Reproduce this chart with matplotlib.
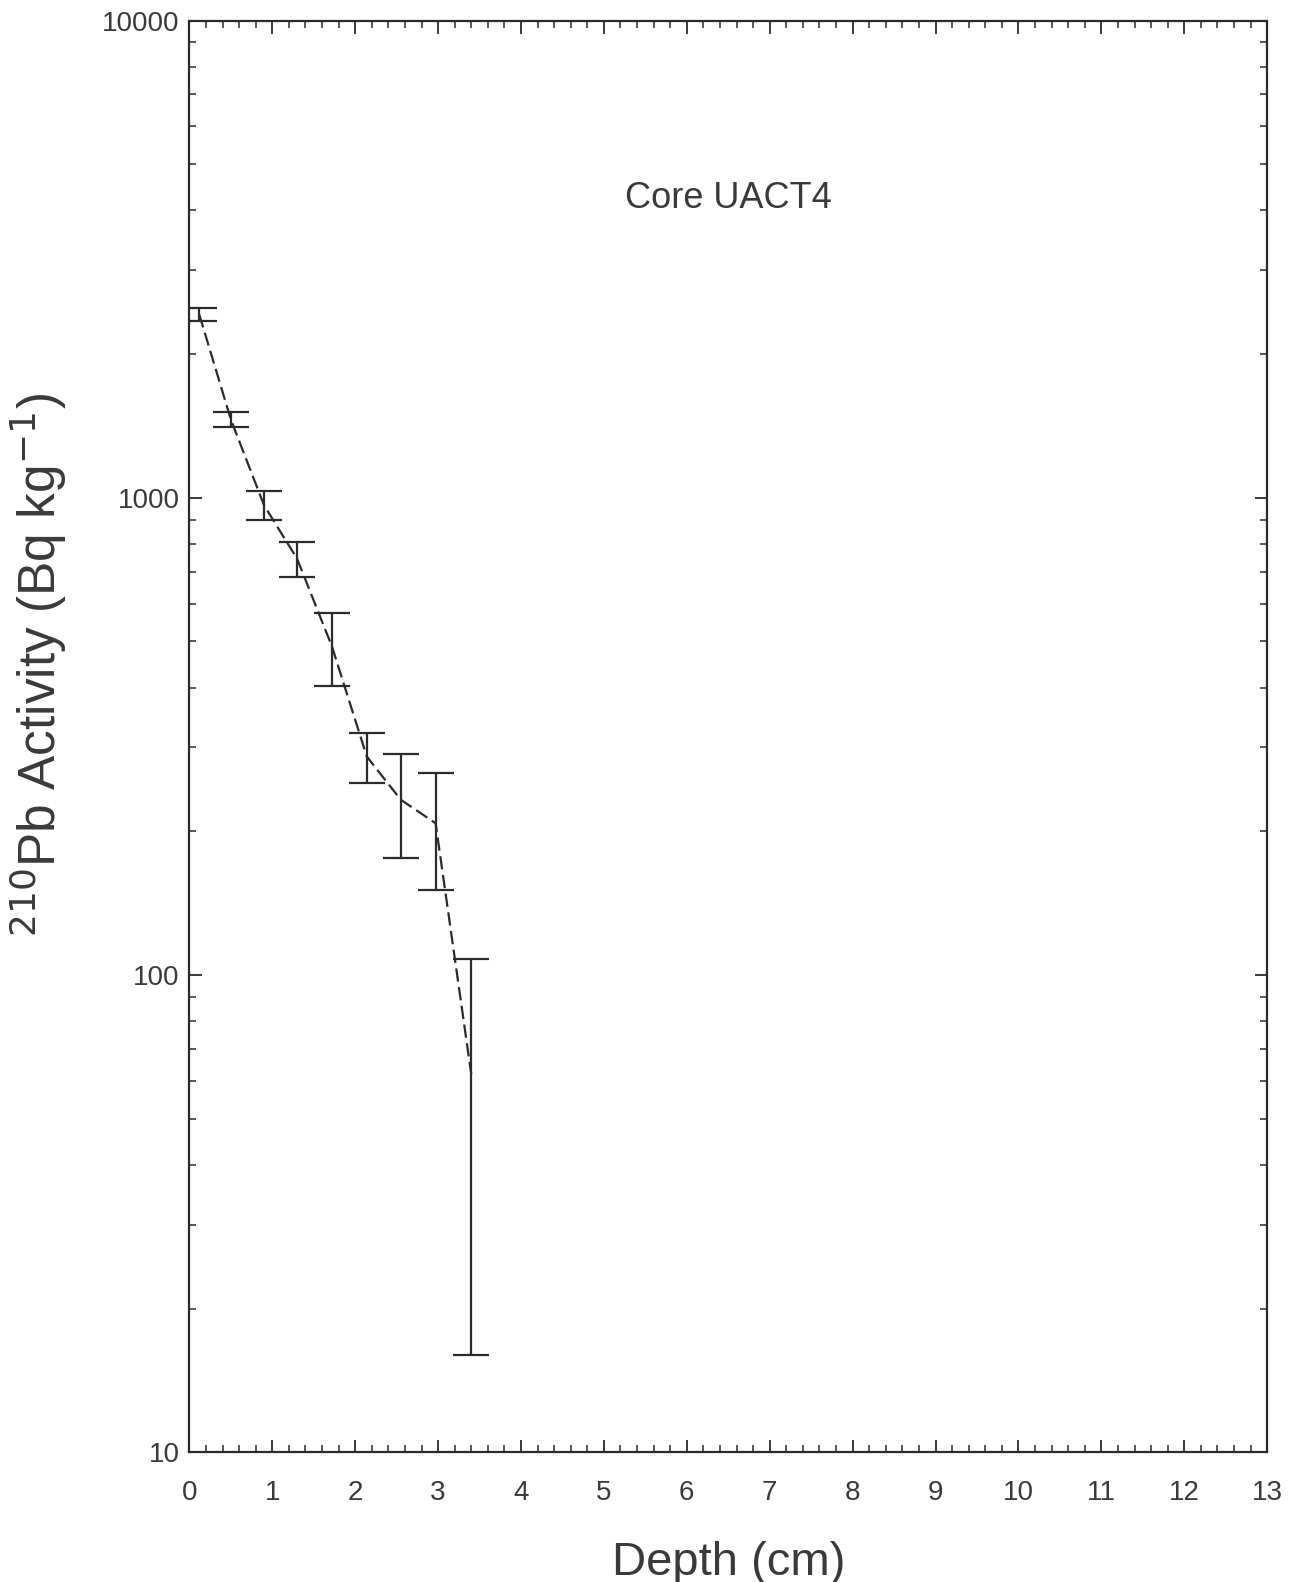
import numpy as np
import matplotlib
matplotlib.use("Agg")
import matplotlib.pyplot as plt
from matplotlib.ticker import FixedLocator, MultipleLocator, LogLocator, FuncFormatter, NullFormatter

# 210Pb profile, core UACT4
depth = [0.12, 0.5, 0.9, 1.3, 1.72, 2.14, 2.55, 2.97, 3.4]
activity = [2420, 1460, 965, 745, 488, 287, 233, 208, 62]
activity_err = [78, 53, 67, 64, 85, 34, 57, 57, 46]

x_ticks = list(range(0, 14))
y_ticks = [10, 100, 1000, 10000]

ink = '#2b2b2b'
txt = '#3a3a3a'

plt.rcParams['font.family'] = ['Liberation Sans', 'DejaVu Sans']

fig = plt.figure(figsize=(12.97, 15.82), dpi=100)
ax = fig.add_axes([0.146, 0.082, 0.831, 0.905])

# error bars (no markers) + dashed line joining the points
ax.errorbar(depth, activity, yerr=activity_err, fmt='none', ecolor=ink,
            elinewidth=1.6, capsize=13, capthick=1.6)
ax.plot(depth, activity, color=ink, lw=1.6, linestyle=(0, (6, 2.5)))

ax.set_yscale('log')
ax.set_xlim(0, 13)
ax.set_ylim(10, 10000)

ax.xaxis.set_major_locator(FixedLocator(x_ticks))
ax.xaxis.set_minor_locator(MultipleLocator(0.2))
ax.yaxis.set_major_locator(FixedLocator(y_ticks))
ax.yaxis.set_minor_locator(LogLocator(base=10, subs=np.arange(2, 10)))
ax.yaxis.set_major_formatter(FuncFormatter(lambda v, p: '%d' % v))
ax.yaxis.set_minor_formatter(NullFormatter())

ax.tick_params(which='both', direction='in', top=True, right=True, color=ink)
ax.tick_params(which='major', length=9, width=1.3)
ax.tick_params(which='minor', length=5, width=1.1)
ax.tick_params(axis='x', which='major', labelsize=20, labelcolor=txt, pad=20)
ax.tick_params(axis='y', which='major', labelsize=20, labelcolor=txt, pad=7)

for s in ax.spines.values():
    s.set_color(ink)
    s.set_linewidth(1.6)

ax.set_xlabel('Depth (cm)', fontsize=34, color=txt)
ax.xaxis.set_label_coords(0.5, -0.062)
ax.set_ylabel(r'$^{210}$Pb Activity (Bq kg$^{-1}$)', fontsize=37, color=txt)
ax.yaxis.set_label_coords(-0.112, 0.55)

ax.text(0.5, 0.876, 'Core UACT4', transform=ax.transAxes, fontsize=26,
        color=txt, ha='center', va='center')

fig.savefig('out.png', dpi=100, facecolor='white')
